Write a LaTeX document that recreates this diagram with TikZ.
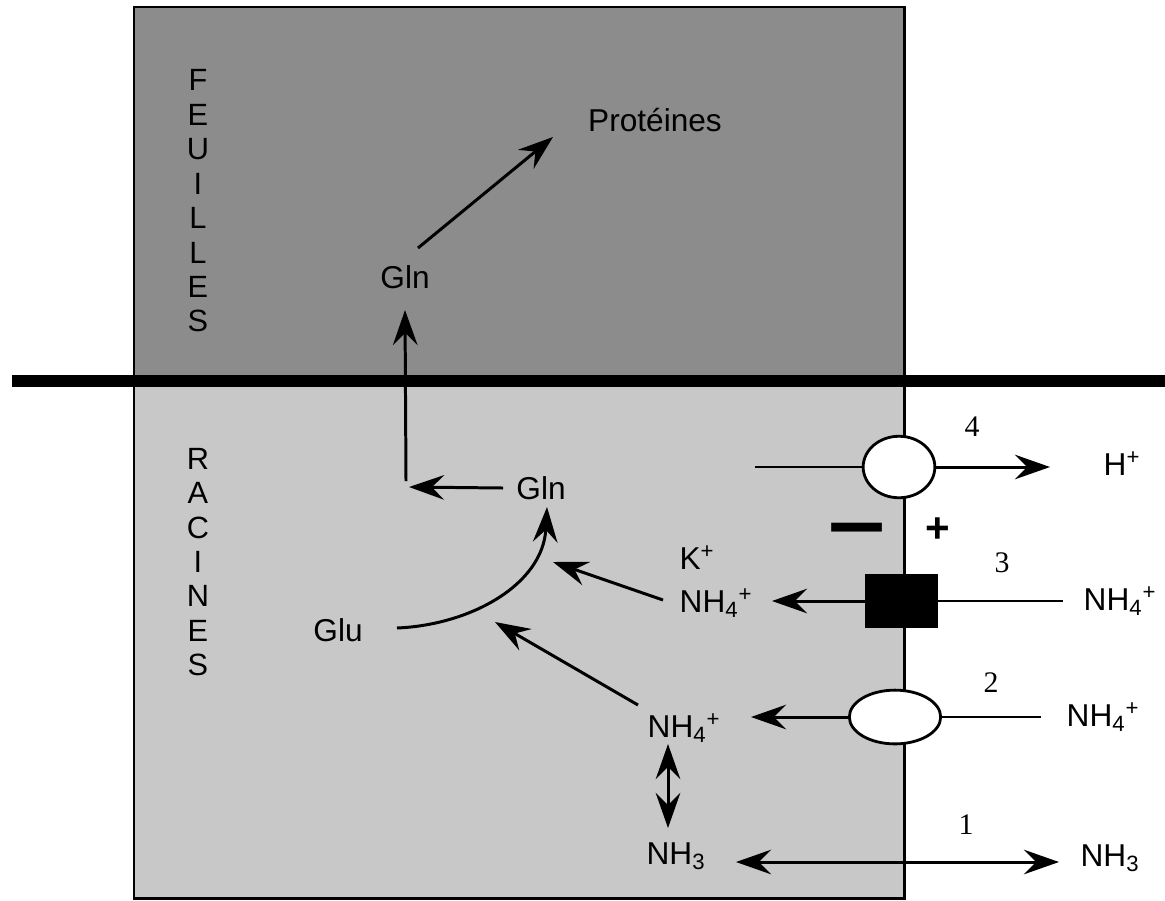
\documentclass[tikz,border=0pt]{standalone}
\usepackage{fontspec}
\setmainfont{Liberation Sans}
\newfontfamily\serifnum{Liberation Serif}
\usetikzlibrary{arrows.meta,calc,shapes.geometric}
\definecolor{leafgray}{RGB}{140,140,140}
\definecolor{rootgray}{RGB}{200,200,200}
\begin{document}
\begin{tikzpicture}[x=0.02cm,y=-0.02cm,
  lbl/.style={inner sep=0pt,font=\fontsize{18}{21}\selectfont},
  num/.style={inner sep=0pt,font=\serifnum\fontsize{17}{20}\selectfont},
  vert/.style={inner sep=0pt,align=center,font=\fontsize{17.5}{19.6}\selectfont},
  arr/.style={-{Stealth[length=20pt,width=14pt,inset=7pt]},line width=1.7pt},
  dblarr/.style={{Stealth[length=20pt,width=14pt,inset=7pt]}-{Stealth[length=20pt,width=14pt,inset=7pt]},line width=1.7pt},
  mline/.style={line width=1.5pt},
  carrier/.style={draw,line width=1.6pt,fill=white,ellipse,inner sep=0pt}]
\useasboundingbox (0,0) rectangle (1165,900);
% compartments
\fill[leafgray] (134,7) rectangle (904,381);
\fill[rootgray] (134,381) rectangle (904,898);
\draw[line width=1.7pt] (134,898) -- (134,7) -- (904,7) -- (904,898) -- cycle;
\draw[line width=6.8pt] (12,381) -- (1165,381);
% vertical labels
\node[vert] (feuilles) at (198,201) {F\\E\\U\\I\\L\\L\\E\\S};
\node[vert] (racines) at (198,562) {R\\A\\C\\I\\N\\E\\S};
% leaves
\node[lbl] (prot) at (655,120) {Protéines};
\node[lbl] (glnL) at (405,277) {Gln};
\draw[arr] ($(glnL)+(13,-29)$) -- ($(prot)+(-102,17)$);
% roots
\node[lbl] (glnR) at (541,488) {Gln};
\coordinate (corner) at (406,487);
\draw[arr] ($(glnR)+(-38,0)$) -- ($(corner)+(3,0)$);
\draw[arr] ($(corner)+(0,-6)$) -- ($(glnL)+(0,33)$);
\node[lbl] (glu) at (338,630) {Glu};
\draw[arr] ($(glu)+(59,-2)$) .. controls (470,625) and (543,585) .. ($(glnR)+(6,19)$);
\node[lbl] (kplus) at (697,558) {K\textsuperscript{+}};
\node[lbl] (nhmid) at (716,603) {NH\textsubscript{4}\textsuperscript{+}};
\draw[arr] ($(nhmid)+(-53,-3)$) -- ($(nhmid)+(-163,-41)$);
\node[lbl] (nhlow) at (684,728) {NH\textsubscript{4}\textsuperscript{+}};
\draw[arr] ($(nhlow)+(-46,-23)$) -- ($(nhlow)+(-189,-106)$);
\node[lbl] (nh3L) at (676,856) {NH\textsubscript{3}};
\draw[dblarr] ($(nhlow)+(-16,16)$) -- ($(nh3L)+(-8,-28)$);
% membrane carriers
\node[carrier,minimum width=40.8pt,minimum height=35pt] (c4) at (899,467) {};
\node[carrier,minimum width=52pt,minimum height=30.6pt] (c2) at (895,717) {};
\node[draw,fill=black,minimum width=40.8pt,minimum height=30pt,inner sep=0pt] (c3) at (901,601) {};
% 4
\coordinate (in4) at (755,467);
\draw[mline] (in4) -- (c4.west);
\node[lbl] (hplus) at (1122,464) {H\textsuperscript{+}};
\draw[arr] (c4.east) -- ($(hplus)+(-72,3)$);
\node[num] (n4) at (972,427) {4};
% charges
\node[inner sep=0pt,font=\bfseries\fontsize{46}{46}\selectfont] (minus) at (857,539) {\scalebox{1.25}[1]{−}};
\node[inner sep=0pt,font=\bfseries\fontsize{24}{24}\selectfont] (plus) at (938,530) {+};
% 3
\node[num] (n3) at (1002,563) {3};
\node[lbl] (nh3ext) at (1120,601) {NH\textsubscript{4}\textsuperscript{+}};
\draw[mline] (c3.east) -- ($(nh3ext)+(-57,0)$);
\draw[arr] (c3.west) -- ($(nhmid)+(56,-2)$);
% 2
\node[num] (n2) at (991,683) {2};
\node[lbl] (nh2ext) at (1103,717) {NH\textsubscript{4}\textsuperscript{+}};
\draw[mline] (c2.east) -- ($(nh2ext)+(-62,0)$);
\draw[arr] (c2.west) -- ($(nhlow)+(67,-11)$);
% 1
\node[num] (n1) at (966,825) {1};
\node[lbl] (nh3R) at (1110,858) {NH\textsubscript{3}};
\draw[dblarr] ($(nh3L)+(60,6)$) -- ($(nh3R)+(-51,4)$);
\end{tikzpicture}
\end{document}
